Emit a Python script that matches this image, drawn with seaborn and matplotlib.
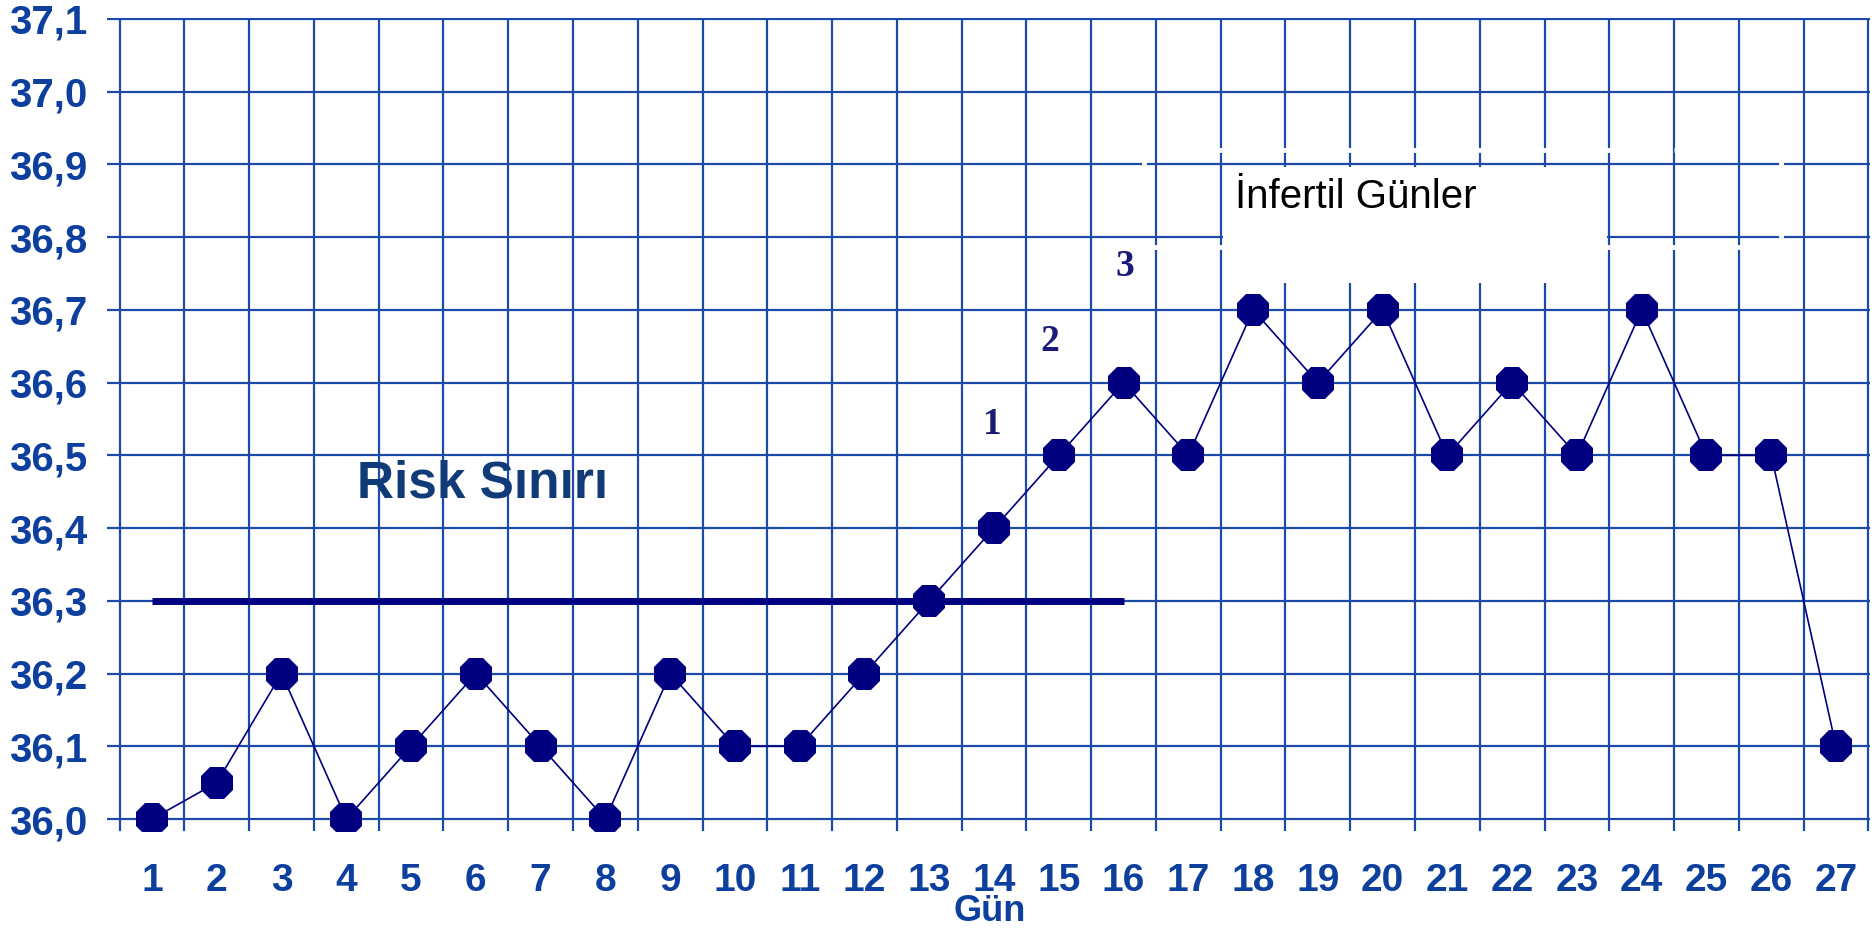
import matplotlib
matplotlib.use("Agg")
import matplotlib.pyplot as plt
from matplotlib.patches import Rectangle
import numpy as np
import seaborn as sns

# data
days = list(range(1, 28))
temps = [36.0, 36.05, 36.2, 36.0, 36.1, 36.2, 36.1, 36.0, 36.2, 36.1,
         36.1, 36.2, 36.3, 36.4, 36.5, 36.6, 36.5, 36.7, 36.6, 36.7,
         36.5, 36.6, 36.5, 36.7, 36.5, 36.5, 36.1]
day_labels = [str(d) for d in days]
y_ticks = [36.0, 36.1, 36.2, 36.3, 36.4, 36.5, 36.6, 36.7, 36.8, 36.9, 37.0, 37.1]
y_labels = ["36,0", "36,1", "36,2", "36,3", "36,4", "36,5",
            "36,6", "36,7", "36,8", "36,9", "37,0", "37,1"]
risk_days = [1, 16]
risk_level = [36.3, 36.3]
step_labels = ["1", "2", "3"]

sns.set_style("white")
plt.rcParams['font.family'] = ['Liberation Sans', 'DejaVu Sans']

grid_c = '#1c4aa8'
text_c = '#0d3f9f'
navy = '#000080'

fig = plt.figure(figsize=(18.76, 9.3), dpi=100)
ax = fig.add_axes([0.05704, 0.10645, 0.93961, 0.87473])

# grid: horizontal at values, vertical between days
ax.set_xlim(0.305, 27.52)
ax.set_ylim(35.9835, 37.102)
ax.set_xticks(days)
ax.set_xticklabels(day_labels)
ax.set_xticks(np.arange(0.5, 28, 1), minor=True)
ax.set_yticks(y_ticks)
ax.set_yticklabels(y_labels)
ax.set_axisbelow(True)
ax.grid(which='minor', axis='x', color=grid_c, lw=1.6)
ax.grid(which='major', axis='y', color=grid_c, lw=1.6)
ax.grid(which='major', axis='x', visible=False)
ax.tick_params(axis='both', which='both', length=0)
ax.tick_params(axis='x', which='major', pad=23, labelsize=28, labelcolor=text_c)
ax.tick_params(axis='y', which='major', pad=14, labelsize=29, labelcolor=text_c)
for lbl in ax.get_xticklabels() + ax.get_yticklabels():
    lbl.set_fontweight('bold')
for s in ax.spines.values():
    s.set_visible(False)

# white boxes over the grid ("Infertil Günler" label area)
ax.add_patch(Rectangle((16.32, 36.786), 26.15 - 16.32, 36.92 - 36.786, fill=False,
                       edgecolor='white', lw=3.5, linestyle=(0, (5, 2)), zorder=1.5))
ax.add_patch(Rectangle((17.53, 36.737), 23.47 - 17.53, 36.897 - 36.737,
                       facecolor='white', edgecolor='none', zorder=1.6))

# risk threshold
ax.plot(risk_days, risk_level, color=navy, lw=5, solid_capstyle='butt', zorder=2)

# temperature curve
sns.lineplot(x=days, y=temps, ax=ax, color=navy, lw=1.2, marker='8',
             markersize=25, markeredgewidth=0, zorder=3)

ax.set_xlabel("Gün", fontsize=26, fontweight='bold', color=text_c, va='bottom')
ax.xaxis.set_label_coords(0.501, -0.1205)
ax.set_ylabel("")

ax.text(6.1, 36.46, "Risk Sınırı", fontsize=37, fontweight='bold', color='#103a78',
        ha='center', va='center', zorder=4)
ax.text(19.59, 36.855, "İnfertil Günler", fontsize=29, color='black',
        ha='center', va='center', zorder=4)
for lab, x, y in zip(step_labels, [13.98, 14.86, 16.02], [36.542, 36.656, 36.759]):
    ax.text(x, y, lab, fontsize=27, fontweight='bold', color='#1a1a7a',
            family='Liberation Serif', ha='center', va='center', zorder=4)

fig.savefig("out.png", dpi=100)
